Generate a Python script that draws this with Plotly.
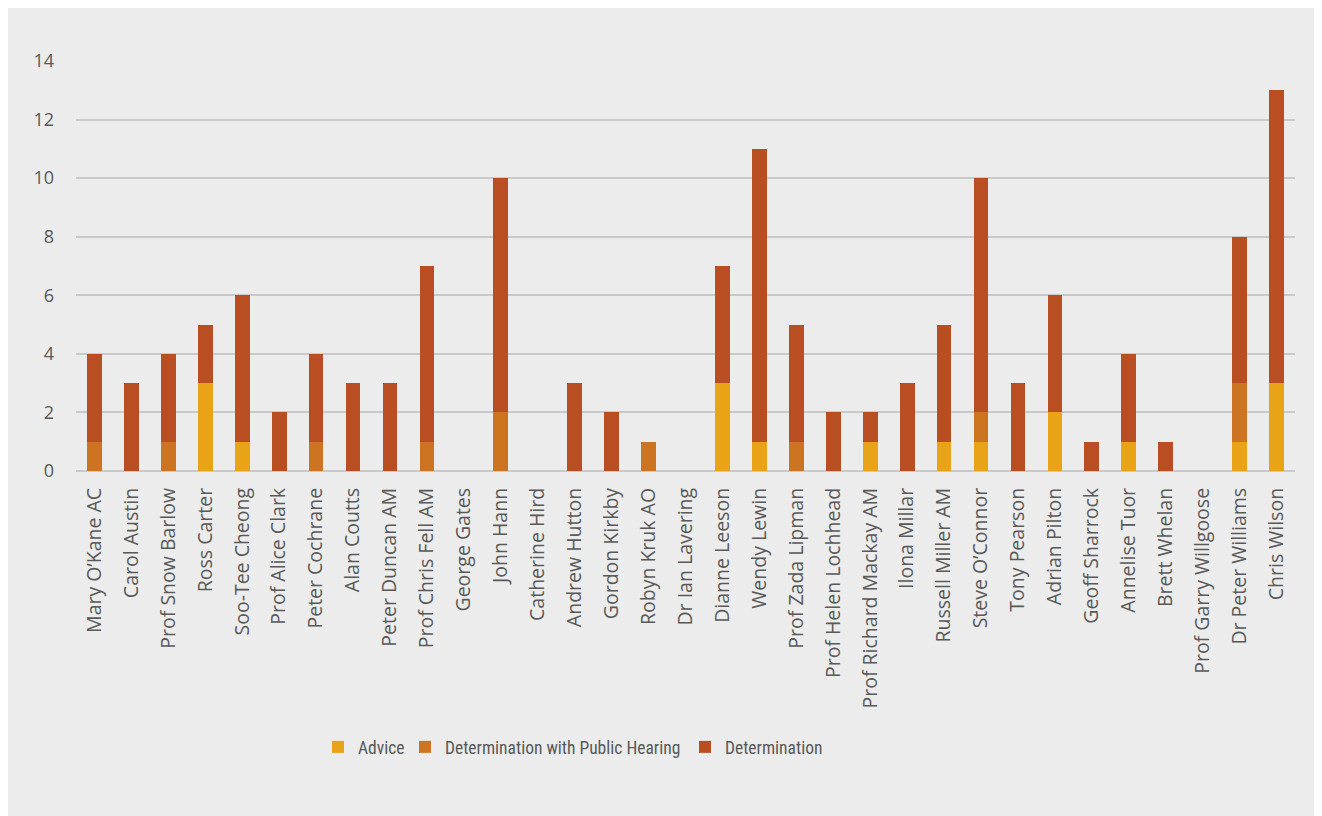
import plotly.graph_objects as go

members = [
    "Mary O\u2019Kane AC", "Carol Austin", "Prof Snow Barlow", "Ross Carter", "Soo-Tee Cheong",
    "Prof Alice Clark", "Peter Cochrane", "Alan Coutts", "Peter Duncan AM", "Prof Chris Fell AM",
    "George Gates", "John Hann", "Catherine Hird", "Andrew Hutton", "Gordon Kirkby",
    "Robyn Kruk AO", "Dr Ian Lavering", "Dianne Leeson", "Wendy Lewin", "Prof Zada Lipman",
    "Prof Helen Lochhead", "Prof Richard Mackay AM", "Ilona Millar", "Russell Miller AM",
    "Steve O\u2019Connor", "Tony Pearson", "Adrian Pilton", "Geoff Sharrock", "Annelise Tuor",
    "Brett Whelan", "Prof Garry Willgoose", "Dr Peter Williams", "Chris Wilson",
]

advice = [0, 0, 0, 3, 1, 0, 0, 0, 0, 0, 0, 0, 0, 0, 0, 0, 0, 3, 1, 0, 0, 1, 0, 1, 1, 0, 2, 0, 1, 0, 0, 1, 3]
determination_public_hearing = [1, 0, 1, 0, 0, 0, 1, 0, 0, 1, 0, 2, 0, 0, 0, 1, 0, 0, 0, 1, 0, 0, 0, 0, 1, 0, 0, 0, 0, 0, 0, 2, 0]
determination = [3, 3, 3, 2, 5, 2, 3, 3, 3, 6, 0, 8, 0, 3, 2, 0, 0, 4, 10, 4, 2, 1, 3, 4, 8, 3, 4, 1, 3, 1, 0, 5, 10]

series_names = ["Advice", "Determination with Public Hearing", "Determination"]
series_colors = ["#E8A317", "#CC7422", "#B94E23"]
y_ticks = [0, 2, 4, 6, 8, 10, 12, 14]

FONT = "Open Sans, sans-serif"
LEGEND_FONT = "Roboto Condensed, Open Sans, sans-serif"
TEXT = "#595959"
BG = "#EBECEB"

fig = go.Figure()
legend_ids = ["legend", "legend2", "legend3"]
for name, vals, col, lid in zip(series_names, [advice, determination_public_hearing, determination],
                                series_colors, legend_ids):
    fig.add_trace(go.Bar(
        x=members, y=vals, name=name, marker=dict(color=col, line=dict(width=0)),
        legend=lid, showlegend=True,
    ))

# figure sits at page offset (8, 8); pixel helpers for paper coordinates (layout only)
W, H = 1314, 808
L, R, T, B = 68, 27, 53, 345
pw, ph = W - L - R, H - T - B
def px(x):
    return (x - L) / pw
def py(y):
    return (H - B - y) / ph

legend_common = dict(orientation="h", yanchor="middle", xanchor="left", bgcolor="rgba(0,0,0,0)",
                     font=dict(family=LEGEND_FONT, size=17.5, color=TEXT), borderwidth=0,
                     itemclick=False, itemdoubleclick=False, visible=True)

fig.update_layout(
    width=W, height=H,
    margin=dict(l=L, r=R, t=T, b=B, pad=0),
    paper_bgcolor=BG, plot_bgcolor=BG,
    barmode="stack", bargap=0.6,
    showlegend=True,
    font=dict(family=FONT, size=18, color=TEXT),
    xaxis=dict(
        tickangle=-90, tickfont=dict(family=FONT, size=19.5, color=TEXT),
        showgrid=False, showline=False, ticks="", ticklabelstandoff=12,
        categoryorder="array", categoryarray=members,
    ),
    yaxis=dict(
        range=[0, 14], tickvals=y_ticks, showgrid=True, gridcolor="#C9C9C9", gridwidth=1.5,
        zeroline=True, zerolinecolor="#C9C9C9", zerolinewidth=1.5,
        tickfont=dict(family=FONT, size=18, color=TEXT), ticks="", ticklabelstandoff=21,
        showline=False,
    ),
    legend=dict(**legend_common, x=px(310), y=py(739)),
    legend2=dict(**legend_common, x=px(397), y=py(739)),
    legend3=dict(**legend_common, x=px(677), y=py(739)),
)

fig.write_html("out.html")
